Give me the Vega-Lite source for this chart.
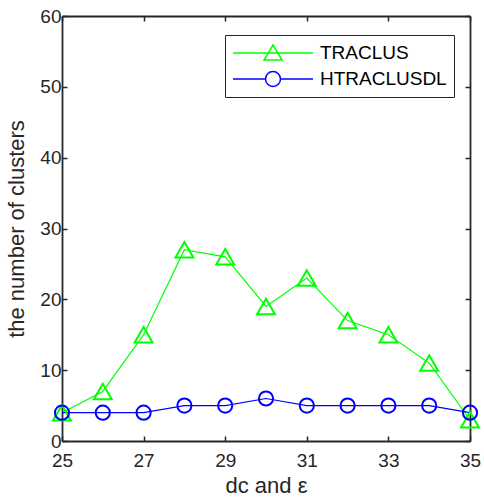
{
  "$schema": "https://vega.github.io/schema/vega-lite/v6.json",
  "width": 408,
  "height": 425,
  "autosize": "none",
  "padding": {"left": 62, "top": 16, "right": 14, "bottom": 60},
  "background": "white",
  "data": {"values": [
    {"x": 25, "n": 4, "series": "TRACLUS"},
    {"x": 26, "n": 7, "series": "TRACLUS"},
    {"x": 27, "n": 15, "series": "TRACLUS"},
    {"x": 28, "n": 27, "series": "TRACLUS"},
    {"x": 29, "n": 26, "series": "TRACLUS"},
    {"x": 30, "n": 19, "series": "TRACLUS"},
    {"x": 31, "n": 23, "series": "TRACLUS"},
    {"x": 32, "n": 17, "series": "TRACLUS"},
    {"x": 33, "n": 15, "series": "TRACLUS"},
    {"x": 34, "n": 11, "series": "TRACLUS"},
    {"x": 35, "n": 3, "series": "TRACLUS"},
    {"x": 25, "n": 4, "series": "HTRACLUSDL"},
    {"x": 26, "n": 4, "series": "HTRACLUSDL"},
    {"x": 27, "n": 4, "series": "HTRACLUSDL"},
    {"x": 28, "n": 5, "series": "HTRACLUSDL"},
    {"x": 29, "n": 5, "series": "HTRACLUSDL"},
    {"x": 30, "n": 6, "series": "HTRACLUSDL"},
    {"x": 31, "n": 5, "series": "HTRACLUSDL"},
    {"x": 32, "n": 5, "series": "HTRACLUSDL"},
    {"x": 33, "n": 5, "series": "HTRACLUSDL"},
    {"x": 34, "n": 5, "series": "HTRACLUSDL"},
    {"x": 35, "n": 4, "series": "HTRACLUSDL"}
  ]},
  "config": {
    "view": {"stroke": null},
    "axis": {
      "domainColor": "#262626",
      "domainWidth": 1.8,
      "tickColor": "#262626",
      "tickWidth": 1.5,
      "tickSize": -5,
      "grid": false,
      "labelFlush": false,
      "labelOverlap": false,
      "labelFont": "Liberation Sans",
      "labelFontSize": 19,
      "labelColor": "#262626",
      "titleFont": "Liberation Sans",
      "titleFontSize": 22,
      "titleFontWeight": "normal",
      "titleColor": "#262626"
    }
  },
  "resolve": {"axis": {"x": "independent", "y": "independent"}},
  "layer": [
    {
      "mark": {"type": "line", "strokeWidth": 1.2},
      "encoding": {
        "x": {"field": "x", "type": "quantitative",
              "scale": {"domain": [25, 35], "nice": false, "zero": false},
              "axis": {"title": "dc and ε", "values": [25, 27, 29, 31, 33, 35], "labelPadding": 15, "titlePadding": 5}},
        "y": {"field": "n", "type": "quantitative",
              "scale": {"domain": [0, 60], "nice": false},
              "axis": {"title": "the number of clusters", "values": [0, 10, 20, 30, 40, 50, 60], "labelPadding": 6, "titlePadding": 11}},
        "color": {"field": "series", "type": "nominal",
                  "scale": {"domain": ["TRACLUS", "HTRACLUSDL"], "range": ["#00ff00", "#0000ff"]},
                  "legend": {
                    "title": null,
                    "orient": "none",
                    "legendX": 163,
                    "legendY": 19,
                    "fillColor": "white",
                    "strokeColor": "#262626",
                    "padding": 7,
                    "rowPadding": 5,
                    "symbolSize": 400,
                    "symbolStrokeWidth": 1.5,
                    "labelFont": "Liberation Sans",
                    "labelFontSize": 19,
                    "labelColor": "#000000",
                    "labelOffset": 66,
                    "encode": {"symbols": {"update": {
                      "shape": {"signal": "datum.value === 'TRACLUS' ? 'M-1,0L7,0M3,-0.8L3.9,0.7L2.1,0.7Z' : 'M-1,0L2.25,0M3.75,0L7,0M3.75,0A0.75,0.75,0,1,1,2.25,0A0.75,0.75,0,1,1,3.75,0'"},
                      "fill": {"value": "transparent"}
                    }}}
                  }}
      }
    },
    {
      "transform": [{"filter": "datum.series === 'TRACLUS'"}],
      "mark": {"type": "point", "shape": "triangle-up", "size": 320, "filled": false, "strokeWidth": 2, "color": "#00ff00", "opacity": 1},
      "encoding": {
        "x": {"field": "x", "type": "quantitative", "axis": {"orient": "top", "labels": false, "title": null, "values": [25, 27, 29, 31, 33, 35]}},
        "y": {"field": "n", "type": "quantitative", "axis": {"orient": "right", "labels": false, "title": null, "values": [0, 10, 20, 30, 40, 50, 60]}}
      }
    },
    {
      "transform": [{"filter": "datum.series === 'HTRACLUSDL'"}],
      "mark": {"type": "point", "shape": "circle", "size": 200, "filled": false, "strokeWidth": 2, "color": "#0000ff", "opacity": 1},
      "encoding": {
        "x": {"field": "x", "type": "quantitative", "axis": null},
        "y": {"field": "n", "type": "quantitative", "axis": null}
      }
    }
  ]
}
